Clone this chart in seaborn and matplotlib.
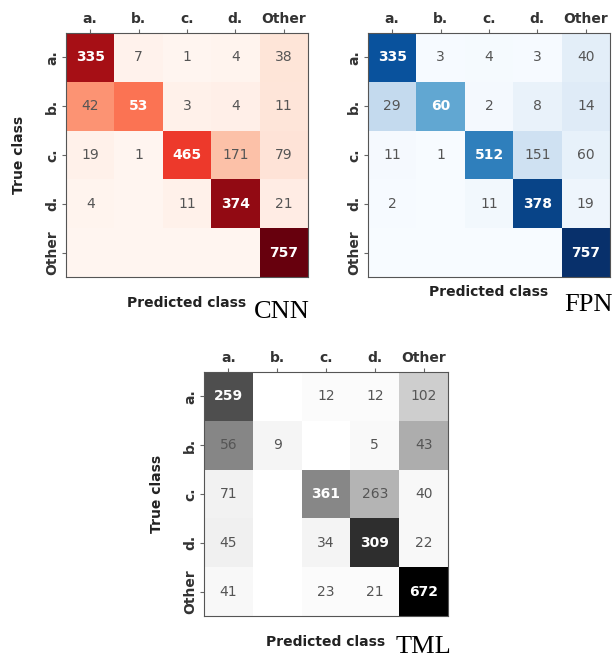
import numpy as np
import seaborn as sns
import matplotlib.pyplot as plt

classes = ['a.', 'b.', 'c.', 'd.', 'Other']

cnn_counts = [[335, 7, 1, 4, 38],
              [42, 53, 3, 4, 11],
              [19, 1, 465, 171, 79],
              [4, 0, 11, 374, 21],
              [0, 0, 0, 0, 757]]

fpn_counts = [[335, 3, 4, 3, 40],
              [29, 60, 2, 8, 14],
              [11, 1, 512, 151, 60],
              [2, 0, 11, 378, 19],
              [0, 0, 0, 0, 757]]

tml_counts = [[259, 0, 12, 12, 102],
              [56, 9, 0, 5, 43],
              [71, 0, 361, 263, 40],
              [45, 0, 34, 309, 22],
              [41, 0, 23, 21, 672]]


def plot_cm(fig, rect, counts, cmap, tag, tag_pos, show_ylabel, xlabelpad):
    ax = fig.add_axes(rect)
    counts = np.array(counts)
    # colour by row-normalised rate, annotate with raw counts
    norm = counts / counts.sum(axis=1, keepdims=True)
    labels = np.where(counts > 0, counts.astype(str), '')
    sns.heatmap(norm, ax=ax, cmap=cmap, vmin=0, vmax=norm.max(), cbar=False,
                annot=labels, fmt='', square=False,
                xticklabels=classes, yticklabels=classes,
                annot_kws={'fontsize': 10})
    for t in ax.texts:
        x, y = t.get_position()
        i, j = int(y), int(x)
        if i == j and norm[i, j] > 0.3:
            t.set_color('white')
            t.set_fontweight('bold')
        else:
            t.set_color('#555555')
    ax.xaxis.tick_top()
    ax.tick_params(axis='both', length=3, color='#666666', labelsize=10,
                   labelcolor='#333333', pad=2)
    for lab in ax.get_xticklabels():
        lab.set_fontweight('bold')
        lab.set_rotation(0)
    for lab in ax.get_yticklabels():
        lab.set_fontweight('bold')
        lab.set_rotation(90)
        lab.set_va('center')
    for spine in ax.spines.values():
        spine.set_visible(True)
        spine.set_color('#555555')
        spine.set_linewidth(0.8)
    ax.set_xlabel('Predicted class', fontsize=10, fontweight='bold',
                  color='#222222', labelpad=xlabelpad)
    ax.xaxis.set_label_position('bottom')
    if show_ylabel:
        ax.set_ylabel('True class', fontsize=10, fontweight='bold',
                      color='#222222', labelpad=14)
    fig.text(tag_pos[0], tag_pos[1], tag, fontsize=19,
             family='Liberation Serif', ha='center', va='center')
    return ax


fig = plt.figure(figsize=(6.12, 6.59), dpi=100)
W, H = 612, 659

plot_cm(fig, [66 / W, 1 - 277 / H, 242 / W, 244 / H], cnn_counts, 'Reds',
        'CNN', (282 / W, 1 - 312 / H), True, 14)
plot_cm(fig, [368 / W, 1 - 277 / H, 242 / W, 244 / H], fpn_counts, 'Blues',
        'FPN', (588 / W, 1 - 305 / H), False, 6)
plot_cm(fig, [204 / W, 1 - 616 / H, 244 / W, 244 / H], tml_counts, 'Greys',
        'TML', (423 / W, 1 - 647 / H), True, 14)

fig.savefig('out.png', dpi=100)
